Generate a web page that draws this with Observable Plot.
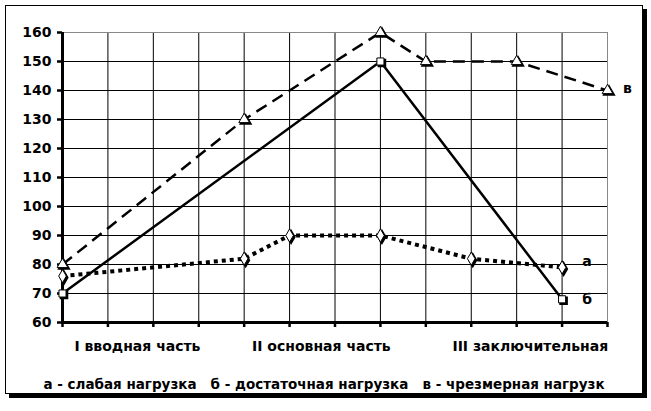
<!DOCTYPE html>
<html><head><meta charset="utf-8">
<script src="https://cdn.jsdelivr.net/npm/d3@7"></script>
<script src="https://cdn.jsdelivr.net/npm/@observablehq/plot@0.6"></script>
<style>
body{margin:0;background:#fff;}
#wrap{position:relative;width:651px;height:411px;}
#frame{position:absolute;left:5px;top:5px;width:636px;height:387px;border:1px solid #000;box-shadow:4px 4px 0 #000;background:#fff;}
#chart{position:absolute;left:0;top:0;}
</style>
</head><body>
<div id="wrap"><div id="frame"></div><div id="chart"></div></div>
<script>
// categories (stage labels) and their positions on the 0..12 category axis
const stages = ["I вводная часть", "II основная часть", "III заключительная"];
const stagePos = [1.65, 5.7, 10.3];
const yTicks = [60, 70, 80, 90, 100, 110, 120, 130, 140, 150, 160];
const legendText = ["а - слабая нагрузка", "б - достаточная нагрузка", "в - чрезмерная нагрузк"];

// series а – weak load (dotted, diamonds)
const aX = [0, 4, 5, 7, 9, 11];
const aY = [76, 82, 90, 90, 82, 79];
// series б – sufficient load (solid, squares)
const bX = [0, 7, 11];
const bY = [70, 150, 68];
// series в – excessive load (dashed, triangles)
const vX = [0, 4, 7, 8, 10, 12];
const vY = [80, 130, 160, 150, 150, 140];
const seriesNames = ["а", "б", "в"];

const mk = (xs, ys) => xs.map((x, i) => ({x, y: ys[i]}));
const A = mk(aX, aY), B = mk(bX, bY), V = mk(vX, vY);
const lastA = A[A.length-1], lastB = B[B.length-1], lastV = V[V.length-1];

const font = "DejaVu Sans";
const dots = (data, symbol, r) => [
  Plot.dot(data, {x:"x", y:"y", symbol, r, fill:"black", stroke:"black", dx:1.5, dy:1.5}),
  Plot.dot(data, {x:"x", y:"y", symbol, r, fill:"white", stroke:"black", strokeWidth:1})
];

const chart = Plot.plot({
  width: 651, height: 411,
  marginLeft: 62, marginRight: 44, marginTop: 32, marginBottom: 89,
  x: {domain: [0, 12]},
  y: {domain: [60, 160]},
  style: {background: "transparent", fontFamily: font, fontWeight: "bold", fontSize: "13px", color: "black", overflow: "visible"},
  marks: [
    Plot.gridX(d3.range(1, 12), {stroke: "black", strokeOpacity: 1}),
    Plot.gridY(yTicks.filter(t => t > 60 && t < 160), {stroke: "black", strokeOpacity: 1}),
    Plot.ruleY([160], {stroke: "#888"}),
    Plot.ruleX([12], {stroke: "#888"}),
    Plot.axisY({ticks: yTicks, tickSize: 5, tickPadding: 6, strokeWidth: 2.5, label: null, fontSize: 14, fontWeight: "bold"}),
    Plot.axisX({ticks: d3.range(0, 13), tickSize: 5, strokeWidth: 2.5, tickFormat: () => "", label: null}),
    Plot.ruleX([0], {stroke: "black", strokeWidth: 3}),
    Plot.ruleY([60], {stroke: "black", strokeWidth: 3}),
    Plot.line(V, {x: "x", y: "y", stroke: "black", strokeWidth: 2.5, strokeDasharray: "12,7", strokeLinecap: "butt", strokeLinejoin: "miter"}),
    Plot.line(B, {x: "x", y: "y", stroke: "black", strokeWidth: 2.5, strokeLinecap: "butt", strokeLinejoin: "miter"}),
    Plot.line(A, {x: "x", y: "y", stroke: "black", strokeWidth: 4, strokeDasharray: "4,4", strokeLinecap: "butt", strokeLinejoin: "miter"}),
    ...dots(A, "diamond", 4),
    ...dots(B, "square", 4),
    ...dots(V, "triangle", 4),
    Plot.text([lastA], {x: "x", y: "y", text: () => seriesNames[0], dx: 25, dy: -6, fontSize: 14, fontWeight: "bold"}),
    Plot.text([lastB], {x: "x", y: "y", text: () => seriesNames[1], dx: 25, dy: 0, fontSize: 14, fontWeight: "bold"}),
    Plot.text([lastV], {x: "x", y: "y", text: () => seriesNames[2], dx: 20, dy: -2, fontSize: 14, fontWeight: "bold"}),
    Plot.text(stages, {x: stagePos, y: stages.map(() => 60), text: d => d, dy: 24, fontSize: 14, fontWeight: "bold"}),
    Plot.text([legendText.join("   ")], {frameAnchor: "bottom", text: d => d, dx: -11, dy: 66, fontSize: 13.5, fontWeight: "bold"})
  ]
});
document.getElementById("chart").appendChild(chart);
</script>
</body></html>
